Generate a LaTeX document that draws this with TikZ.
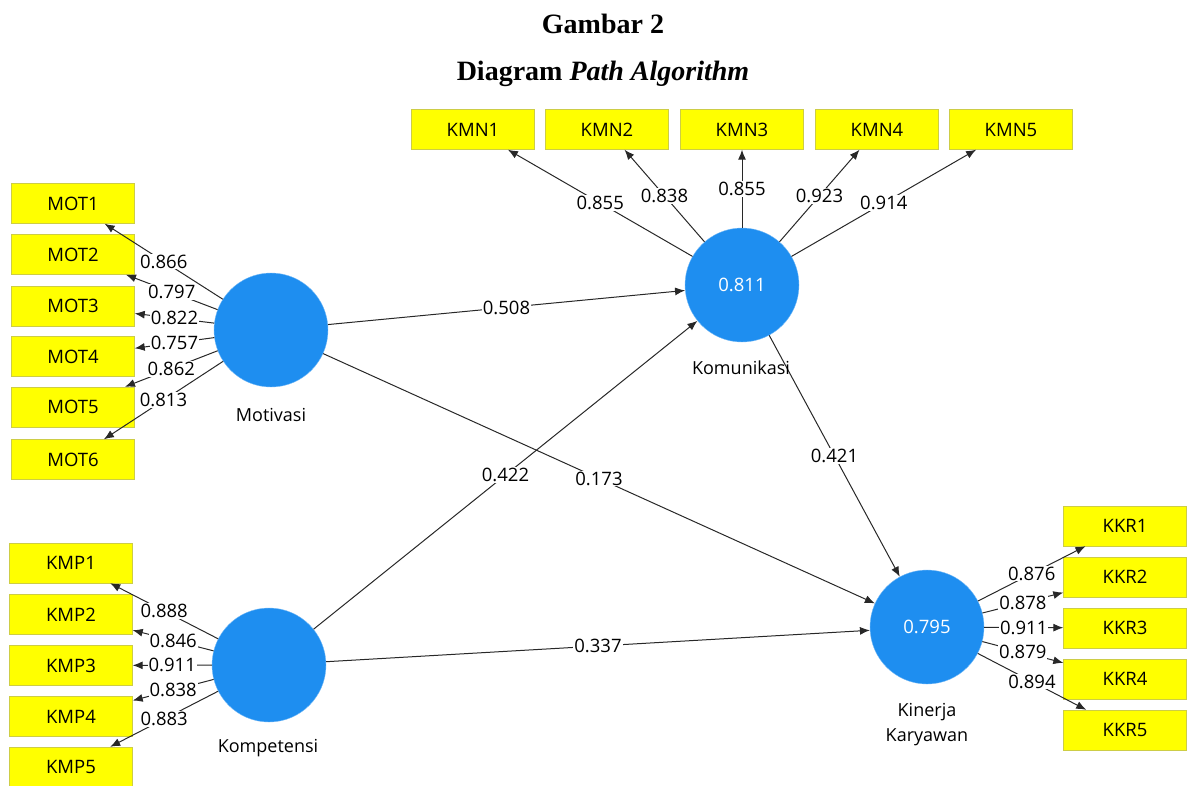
\documentclass[tikz,border=0pt]{standalone}
\usepackage{fontspec}
\setmainfont{Liberation Serif}
\newfontfamily\plsfont{Open Sans}
\usetikzlibrary{arrows.meta}

\definecolor{boxyellow}{RGB}{255,255,0}
\definecolor{boxedge}{RGB}{205,205,70}
\definecolor{latentblue}{RGB}{30,142,240}
\definecolor{pathgray}{RGB}{40,40,40}

\begin{document}
\begin{tikzpicture}[x=1pt, y=-1pt,
  indicator/.style={draw=boxedge, fill=boxyellow, minimum width=123pt, minimum height=40pt, inner sep=0pt, font=\plsfont\fontsize{18.5}{20}\selectfont},
  latent/.style={circle, draw=latentblue!60!white, fill=latentblue, minimum size=114pt, inner sep=0pt, text=white, font=\plsfont\fontsize{18.5}{20}\selectfont},
  caption/.style={font=\plsfont\fontsize{18}{25}\selectfont, align=center},
  pathline/.style={draw=pathgray, line width=1pt, -{Latex[length=10pt,width=8pt]}},
  coef/.style={fill=white, inner sep=1pt, font=\plsfont\fontsize{18.5}{20}\selectfont}]

\useasboundingbox (0,0) rectangle (1190,785);

\node[anchor=base, font=\bfseries\fontsize{28}{30}\selectfont] (title1) at (603,33) {Gambar 2};
\node[anchor=base, font=\bfseries\fontsize{28}{30}\selectfont] (title2) at (603,80) {Diagram \textit{Path Algorithm}};

\node[latent] (mot) at (271,330) {};
\node[latent] (kmp) at (269,665) {};
\node[latent] (kmn) at (742,285) {0.811};
\node[latent] (kkr) at (927,627) {0.795};

\node[caption] (motlab) at (271,415) {Motivasi};
\node[caption] (kmplab) at (268,748) {Kompetensi};
\node[caption] (kkrlab) at (927,725) {Kinerja\\Karyawan};

\node[indicator] (mot1) at (73,203.5) {MOT1};
\node[indicator] (mot2) at (73,254.5) {MOT2};
\node[indicator] (mot3) at (73,306) {MOT3};
\node[indicator] (mot4) at (73,356.5) {MOT4};
\node[indicator] (mot5) at (73,407) {MOT5};
\node[indicator] (mot6) at (73,459.5) {MOT6};

\node[indicator] (kmp1) at (71,563) {KMP1};
\node[indicator] (kmp2) at (71,614.5) {KMP2};
\node[indicator] (kmp3) at (71,665.5) {KMP3};
\node[indicator] (kmp4) at (71,716.5) {KMP4};
\node[indicator] (kmp5) at (71,767) {KMP5};

\node[indicator] (kmn1) at (473,129.5) {KMN1};
\node[indicator] (kmn2) at (607,129.5) {KMN2};
\node[indicator] (kmn3) at (742,129.5) {KMN3};
\node[indicator] (kmn4) at (877,129.5) {KMN4};
\node[indicator] (kmn5) at (1011,129.5) {KMN5};

\node[indicator] (kkr1) at (1125,526) {KKR1};
\node[indicator] (kkr2) at (1125,577) {KKR2};
\node[indicator] (kkr3) at (1125,628) {KKR3};
\node[indicator] (kkr4) at (1125,679) {KKR4};
\node[indicator] (kkr5) at (1125,730) {KKR5};

\draw[pathline] (mot) -- node[coef] {0.866} (mot1);
\draw[pathline] (mot) -- node[coef] {0.797} (mot2);
\draw[pathline] (mot) -- node[coef] {0.822} (mot3);
\draw[pathline] (mot) -- node[coef] {0.757} (mot4);
\draw[pathline] (mot) -- node[coef] {0.862} (mot5);
\draw[pathline] (mot) -- node[coef] {0.813} (mot6);

\draw[pathline] (kmp) -- node[coef] {0.888} (kmp1);
\draw[pathline] (kmp) -- node[coef] {0.846} (kmp2);
\draw[pathline] (kmp) -- node[coef] {0.911} (kmp3);
\draw[pathline] (kmp) -- node[coef] {0.838} (kmp4);
\draw[pathline] (kmp) -- node[coef] {0.883} (kmp5);

\draw[pathline] (kmn) -- node[coef] {0.855} (kmn1);
\draw[pathline] (kmn) -- node[coef] {0.838} (kmn2);
\draw[pathline] (kmn) -- node[coef] {0.855} (kmn3);
\draw[pathline] (kmn) -- node[coef] {0.923} (kmn4);
\draw[pathline] (kmn) -- node[coef] {0.914} (kmn5);

\draw[pathline] (kkr) -- node[coef] {0.876} (kkr1);
\draw[pathline] (kkr) -- node[coef] {0.878} (kkr2);
\draw[pathline] (kkr) -- node[coef] {0.911} (kkr3);
\draw[pathline] (kkr) -- node[coef] {0.879} (kkr4);
\draw[pathline] (kkr) -- node[coef] {0.894} (kkr5);

\draw[pathline] (mot) -- node[coef] {0.508} (kmn);
\draw[pathline] (mot) -- node[coef] {0.173} (kkr);
\draw[pathline] (kmp) -- node[coef] {0.422} (kmn);
\draw[pathline] (kmp) -- node[coef] {0.337} (kkr);
\draw[pathline] (kmn) -- node[coef] {0.421} (kkr);

\node[caption] (kmnlab) at (741,368) {Komunikasi};

\end{tikzpicture}
\end{document}
